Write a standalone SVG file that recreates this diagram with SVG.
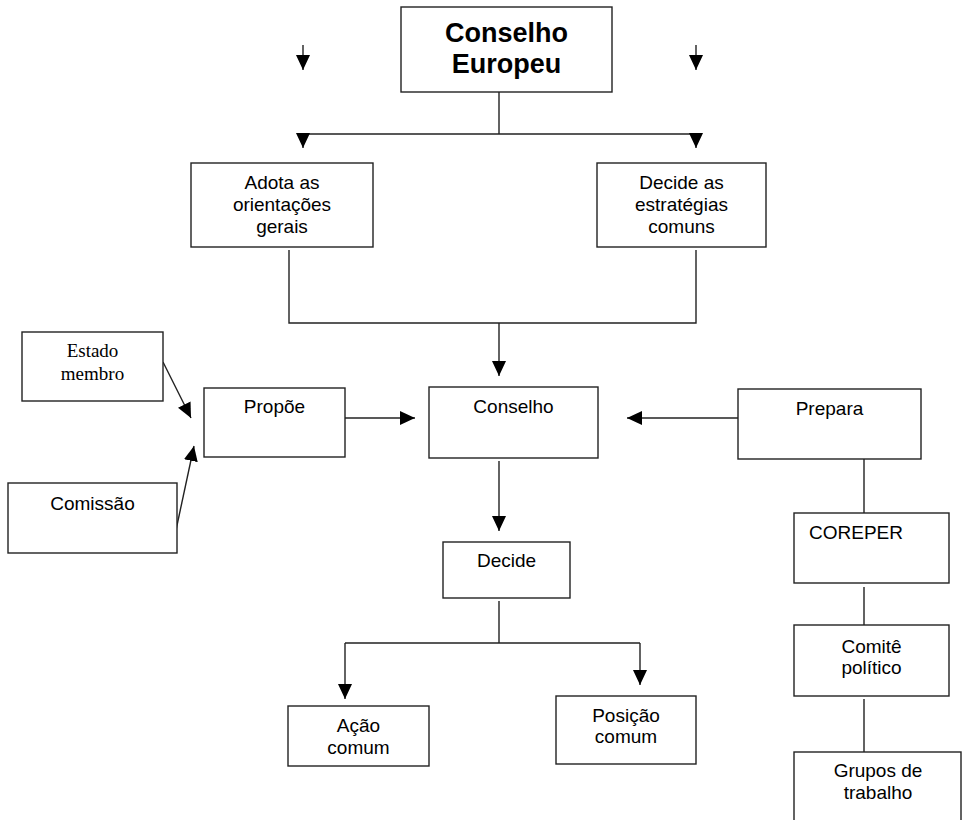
<svg xmlns="http://www.w3.org/2000/svg" width="962" height="820" viewBox="0 0 962 820">
<defs>
<marker id="ah" markerUnits="userSpaceOnUse" markerWidth="16" markerHeight="14" refX="15" refY="7" orient="auto">
<path d="M0,0 L15,7 L0,14 z" fill="#000"/>
</marker>
<style>
.box{fill:#fff;stroke:#222;stroke-width:1.4}
.ln{fill:none;stroke:#222;stroke-width:1.4}
.ar{fill:none;stroke:#222;stroke-width:1.4;marker-end:url(#ah)}
text{font-family:"Liberation Sans",Arial,sans-serif;font-size:19px;fill:#000;text-anchor:middle}
.serif{font-family:"Liberation Serif","Times New Roman",serif}
.big{font-size:27px;font-weight:bold}
</style>
</defs>
<rect width="962" height="820" fill="#fff"/>
<g id="connectors">
<path class="ar" d="M303,45 V70"/>
<path class="ar" d="M696,45 V70"/>
<path class="ln" d="M499,92 V134 M303,134 H696"/>
<path class="ar" d="M303,134 V148"/>
<path class="ar" d="M696,134 V148"/>
<path class="ln" d="M289,250 V323 H696 V250"/>
<path class="ar" d="M499,323 V376"/>
<path class="ar" d="M163,362 L191,418"/>
<path class="ar" d="M176,530 L194,446"/>
<path class="ar" d="M345,418 H415"/>
<path class="ar" d="M738,418 H627"/>
<path class="ar" d="M499,461 V531"/>
<path class="ln" d="M499,601 V643 M345,643 H640"/>
<path class="ar" d="M345,643 V699"/>
<path class="ar" d="M640,643 V685"/>
<path class="ln" d="M864,459 V517 M864,587 V629 M864,699 V756"/>
</g>
<g id="conselho-europeu">
<rect class="box" x="401" y="7" width="211" height="85"/>
<text class="big" x="506.5" y="42">Conselho</text>
<text class="big" x="506.5" y="73">Europeu</text>
</g>
<g id="adota">
<rect class="box" x="191" y="163" width="182" height="84"/>
<text x="282" y="189">Adota as</text>
<text x="282" y="211">orientações</text>
<text x="282" y="233">gerais</text>
</g>
<g id="decide-estrategias">
<rect class="box" x="597" y="163" width="169" height="84"/>
<text x="681.5" y="189">Decide as</text>
<text x="681.5" y="211">estratégias</text>
<text x="681.5" y="233">comuns</text>
</g>
<g id="estado-membro">
<rect class="box" x="22" y="332" width="141" height="69"/>
<text class="serif" x="92.5" y="357">Estado</text>
<text class="serif" x="92.5" y="380">membro</text>
</g>
<g id="comissao">
<rect class="box" x="8" y="483" width="169" height="70"/>
<text x="92.5" y="510">Comissão</text>
</g>
<g id="propoe">
<rect class="box" x="204" y="388" width="141" height="69"/>
<text x="274.5" y="413">Propõe</text>
</g>
<g id="conselho">
<rect class="box" x="429" y="387" width="169" height="71"/>
<text x="513.5" y="413">Conselho</text>
</g>
<g id="prepara">
<rect class="box" x="738" y="389" width="183" height="70"/>
<text x="829.5" y="415">Prepara</text>
</g>
<g id="decide">
<rect class="box" x="443" y="542" width="127" height="56"/>
<text x="506.5" y="567">Decide</text>
</g>
<g id="acao-comum">
<rect class="box" x="288" y="706" width="141" height="60"/>
<text x="358.5" y="732">Ação</text>
<text x="358.5" y="754">comum</text>
</g>
<g id="posicao-comum">
<rect class="box" x="556" y="696" width="140" height="68"/>
<text x="626" y="722">Posição</text>
<text x="626" y="743">comum</text>
</g>
<g id="coreper">
<rect class="box" x="794" y="513" width="155" height="70"/>
<text x="809" y="539" style="text-anchor:start">COREPER</text>
</g>
<g id="comite-politico">
<rect class="box" x="794" y="625" width="155" height="71"/>
<text x="871.5" y="653">Comitê</text>
<text x="871.5" y="674">político</text>
</g>
<g id="grupos-trabalho">
<rect class="box" x="794" y="752" width="167" height="90"/>
<text x="878" y="777">Grupos de</text>
<text x="878" y="799">trabalho</text>
</g>
</svg>
